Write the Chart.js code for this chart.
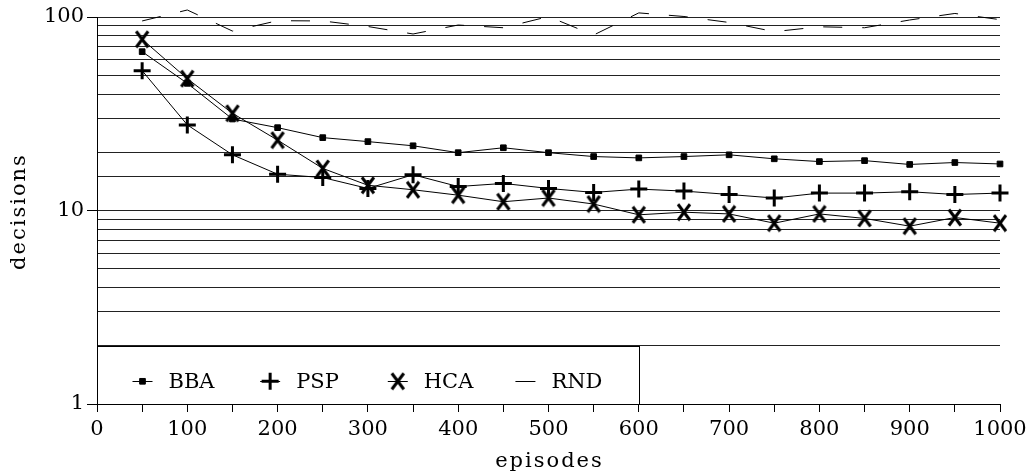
<!DOCTYPE html>
<html>
<head>
<meta charset="utf-8">
<script src="https://cdn.jsdelivr.net/npm/chart.js@4.4.1/dist/chart.umd.min.js"></script>
<style>
  html, body { margin: 0; padding: 0; background: #fff; }
  #wrap { width: 1034px; height: 474px; }
</style>
</head>
<body>
<div id="wrap"><canvas id="c" width="1034" height="474"></canvas></div>
<script>
// ---- data ----
const episodes = [50,100,150,200,250,300,350,400,450,500,550,600,650,700,750,800,850,900,950,1000];
const bba = [66.2,45.4,29.7,26.8,23.8,22.7,21.6,19.9,21.1,19.9,19.0,18.7,19.0,19.4,18.5,17.9,18.1,17.3,17.7,17.4];
const psp = [52.8,27.7,19.4,15.4,14.8,13.0,15.3,13.3,13.8,13.0,12.4,12.9,12.6,12.1,11.6,12.3,12.3,12.5,12.1,12.3];
const hca = [76.7,48.0,31.8,23.1,16.5,13.5,12.8,12.0,11.1,11.6,10.8,9.5,9.8,9.6,8.6,9.6,9.1,8.3,9.2,8.6];
const rnd = [95.4,108.7,84.6,95.7,95.4,89.3,81.7,90.9,88.0,100.5,80.7,105.0,100.6,93.7,84.0,89.0,88.0,96.5,104.3,96.9];
const seriesNames = ['BBA','PSP','HCA','RND'];
const yTickLabels = [1, 10, 100];
const xTickLabels = [0,100,200,300,400,500,600,700,800,900,1000];
const xTitle = 'episodes';
const yTitle = 'decisions';

const FAMILY = "'DejaVu Serif', serif";
const FONT = { family: FAMILY, size: 21 };

// marker image for HCA (letter-like X)
function makeX() {
  const c = document.createElement('canvas');
  c.width = 16; c.height = 19;
  const g = c.getContext('2d');
  g.strokeStyle = '#000'; g.lineWidth = 3; g.lineCap = 'butt';
  g.beginPath();
  g.moveTo(2, 1.5); g.lineTo(14, 17.5);
  g.moveTo(14, 1.5); g.lineTo(2, 17.5);
  g.stroke();
  return c;
}
const xMarker = makeX();

const toPts = arr => arr.map((v, i) => ({ x: episodes[i], y: v }));

const styles = [
  { pointStyle: 'rect', pointRadius: 4, pointBorderWidth: 1, borderDash: [] },
  { pointStyle: 'cross', pointRadius: 8.5, pointBorderWidth: 3, borderDash: [] },
  { pointStyle: xMarker, pointRadius: 8, pointBorderWidth: 0, borderDash: [] },
  { pointStyle: 'line', pointRadius: 0, pointBorderWidth: 0, borderDash: [19, 20] }
];
const series = [bba, psp, hca, rnd];

const datasets = series.map((arr, i) => ({
  label: seriesNames[i],
  data: toPts(arr),
  borderColor: '#000',
  backgroundColor: '#000',
  borderWidth: 1,
  borderDash: styles[i].borderDash,
  pointStyle: styles[i].pointStyle,
  pointRadius: styles[i].pointRadius,
  pointHoverRadius: styles[i].pointRadius,
  pointBorderWidth: styles[i].pointBorderWidth,
  pointBackgroundColor: '#000',
  pointBorderColor: '#000',
  tension: 0,
  clip: false
}));

// legend box drawn inside the plot (x: 0..600, y: 1..2)
const legendBox = {
  id: 'legendBox',
  afterDatasetsDraw(chart) {
    const { ctx, scales: { x, y } } = chart;
    const l = Math.round(x.getPixelForValue(0)) + 0.5;
    const r = Math.round(x.getPixelForValue(600)) + 0.5;
    const t = Math.round(y.getPixelForValue(2)) + 0.5;
    const b = Math.round(y.getPixelForValue(1)) + 0.5;
    ctx.save();
    ctx.fillStyle = '#fff';
    ctx.fillRect(l, t, r - l, b - t);
    ctx.strokeStyle = '#000';
    ctx.lineWidth = 1;
    ctx.setLineDash([]);
    ctx.strokeRect(l, t, r - l, b - t);
    const cy = t + (b - t) * 0.6;
    const step = (r - l) * 0.2355;
    chart.data.datasets.forEach((ds, i) => {
      const cx = l + 45 + i * step;
      ctx.strokeStyle = '#000';
      ctx.lineWidth = 1;
      ctx.beginPath();
      ctx.moveTo(cx - 10, Math.round(cy) + 0.5);
      ctx.lineTo(cx + 10, Math.round(cy) + 0.5);
      ctx.stroke();
      if (ds.pointRadius > 0) {
        ctx.fillStyle = '#000';
        ctx.lineWidth = ds.pointBorderWidth;
        Chart.helpers.drawPoint(ctx, {
          pointStyle: ds.pointStyle, radius: ds.pointRadius, rotation: 0, borderWidth: ds.pointBorderWidth
        }, cx, cy);
      }
      ctx.fillStyle = '#000';
      ctx.font = "21px " + FAMILY;
      ctx.textAlign = 'left';
      ctx.textBaseline = 'middle';
      ctx.fillText(ds.label, cx + 26, cy + 1);
    });
    ctx.restore();
  }
};

const axisTitles = {
  id: 'axisTitles',
  afterDraw(chart) {
    const { ctx, chartArea: a } = chart;
    ctx.save();
    ctx.font = "21px " + FAMILY;
    ctx.fillStyle = '#000';
    try { ctx.letterSpacing = '2px'; } catch (e) {}
    ctx.textAlign = 'center';
    ctx.textBaseline = 'alphabetic';
    ctx.fillText(xTitle, (a.left + a.right) / 2 + 1, 467);
    ctx.translate(25, (a.top + a.bottom) / 2 + 1);
    ctx.rotate(-Math.PI / 2);
    ctx.fillText(yTitle, 0, 0);
    ctx.restore();
  }
};

new Chart(document.getElementById('c'), {
  type: 'line',
  data: { datasets },
  options: {
    responsive: false,
    animation: false,
    devicePixelRatio: 1,
    layout: { padding: { top: 17, right: 34, bottom: 0, left: 0 } },
    plugins: { legend: { display: false }, tooltip: { enabled: false } },
    scales: {
      x: {
        type: 'linear',
        min: 0, max: 1000,
        afterFit: s => { s.height = 70; },
        border: { color: '#000', width: 1 },
        grid: { drawOnChartArea: false, color: '#000', tickLength: 8 },
        ticks: {
          stepSize: 50,
          autoSkip: false,
          maxRotation: 0,
          padding: 5,
          color: '#000',
          font: FONT,
          callback: v => xTickLabels.includes(v) ? String(v) : ''
        }
      },
      y: {
        type: 'logarithmic',
        min: 1, max: 100,
        afterFit: s => { s.width = 97; },
        border: { color: '#000', width: 1 },
        grid: {
          color: '#222',
          tickLength: 10,
          tickColor: c => (c.tick && yTickLabels.includes(c.tick.value)) ? '#000' : 'rgba(0,0,0,0)'
        },
        ticks: {
          autoSkip: false,
          padding: 3,
          color: '#000',
          font: FONT,
          callback: v => yTickLabels.includes(v) ? String(v) : ''
        }
      }
    }
  },
  plugins: [legendBox, axisTitles]
});
</script>
</body>
</html>
